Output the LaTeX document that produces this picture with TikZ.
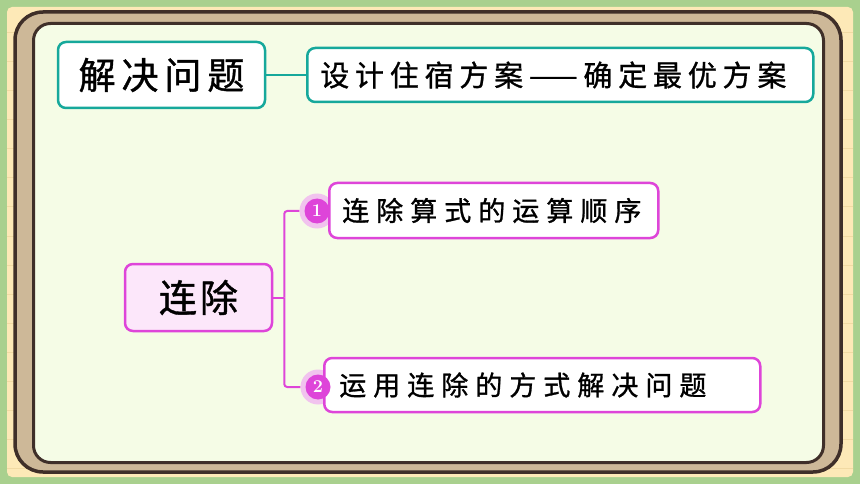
\documentclass[tikz,border=0pt]{standalone}
\usepackage{fontspec}
\newfontfamily\cjk[FakeBold=1]{Noto Sans CJK SC}
\usetikzlibrary{calc}

\definecolor{bggreen}{HTML}{A9D08E}
\definecolor{paper}{HTML}{FDE9B7}
\definecolor{paperline}{HTML}{F1DAA3}
\definecolor{frametan}{HTML}{CDB898}
\definecolor{framedark}{HTML}{3F2F29}
\definecolor{board}{HTML}{F5FCE6}
\definecolor{mapteal}{HTML}{16A89B}
\definecolor{mapmag}{HTML}{DE45D9}
\definecolor{maphalo}{HTML}{F1C3EE}
\definecolor{mappink}{HTML}{FCE7FA}

\begin{document}
\begin{tikzpicture}[x=1pt,y=-1pt,
    tealbox/.style={draw=mapteal,line width=2.5pt,fill=white,rounded corners=8pt,inner sep=0pt},
    magbox/.style={draw=mapmag,line width=2.5pt,fill=white,rounded corners=8pt,inner sep=0pt},
    halo/.style={circle,fill=maphalo,minimum size=35pt,inner sep=0pt},
    num/.style={circle,fill=mapmag,minimum size=25pt,inner sep=0pt,text=white,font=\bfseries\fontsize{18}{18}\selectfont},
    title/.style={font=\cjk\fontsize{37}{40}\selectfont\addfontfeature{LetterSpace=16}},
    topic/.style={font=\cjk\fontsize{38}{40}\selectfont\addfontfeature{LetterSpace=8}},
    label/.style={font=\cjk\fontsize{29}{32}\selectfont\addfontfeature{LetterSpace=20}},
    item/.style={font=\cjk\fontsize{27}{30}\selectfont\addfontfeature{LetterSpace=26}}]

    % board
    \fill[bggreen] (0,0) rectangle (860,484);
    \fill[paper, rounded corners=5pt] (7,7) rectangle (853,477);
    \foreach \y in {33,62,...,470}
        \draw[paperline, line width=1pt] (7,\y) -- (853,\y);
    \draw[framedark, fill=frametan, line width=3.5pt, rounded corners=28pt] (15,12) rectangle (841,472);
    \draw[framedark, fill=board, line width=3pt, rounded corners=17pt] (33.5,23.5) rectangle (823.5,462.5);

    % top row
    \node[tealbox, title, minimum width=207pt, minimum height=66pt] (solve) at (161.5,75) {解决问题};
    \node[tealbox, label, anchor=west, minimum height=54pt, inner xsep=13pt, text width=480pt, align=left] (plan) at (306,75) {设计住宿方案——确定最优方案};
    \draw[mapteal, line width=2pt] (solve.east) -- (plan.west);

    % map
    \node[halo] (h1) at (317,211) {};
    \node[halo] (h2) at (318,387) {};
    \node[magbox, topic, fill=mappink, minimum width=147pt, minimum height=67pt] (chu) at (198.5,297.5) {连除};
    \node[magbox, item, anchor=west, minimum height=55pt, inner xsep=13pt, text width=303pt, align=left] (part1) at (328,210.5) {连除算式的运算顺序};
    \node[magbox, item, anchor=west, minimum height=54pt, inner xsep=15pt, text width=406pt, align=left] (part2) at (323,385) {运用连除的方式解决问题};

    \coordinate (fork) at ($(chu.east)+(11,0)$);
    \draw[mapmag, line width=2pt] (chu.east) -- (fork);
    \draw[mapmag, line width=2pt, rounded corners=3pt] (fork) |- (h1.west);
    \draw[mapmag, line width=2pt, rounded corners=3pt] (fork) |- (h2.west);

    \node[num] (n1) at (h1) {1};
    \node[num] (n2) at (h2) {2};
\end{tikzpicture}
\end{document}
